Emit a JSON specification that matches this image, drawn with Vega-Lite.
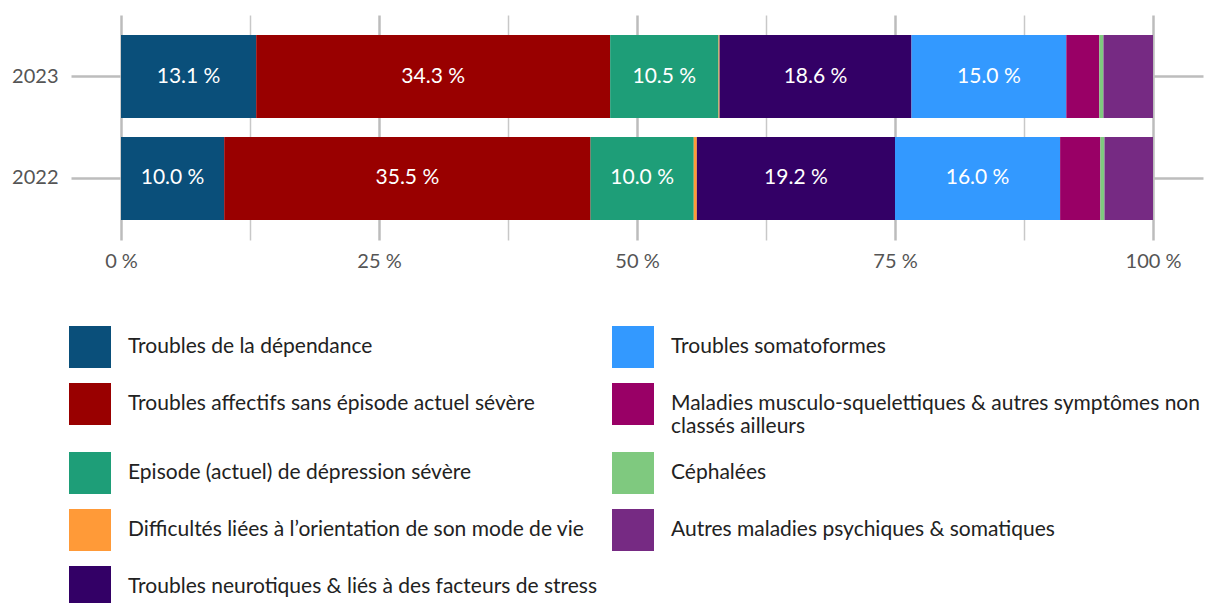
{
  "$schema": "https://vega.github.io/schema/vega-lite/v6.json",
  "width": 1032,
  "height": 225,
  "autosize": {"type": "none"},
  "padding": {"left": 121, "top": 15, "right": 57, "bottom": 363},
  "background": "white",
  "config": {
    "font": "Lato",
    "view": {"stroke": null}
  },
  "data": {
    "values": [
      {"year": "2023", "k": 1, "cat": "Troubles de la dépendance", "value": 13.1},
      {"year": "2023", "k": 2, "cat": "Troubles affectifs sans épisode actuel sévère", "value": 34.3},
      {"year": "2023", "k": 3, "cat": "Episode (actuel) de dépression sévère", "value": 10.5},
      {"year": "2023", "k": 4, "cat": "Difficultés liées à l’orientation de son mode de vie", "value": 0.1},
      {"year": "2023", "k": 5, "cat": "Troubles neurotiques & liés à des facteurs de stress", "value": 18.6},
      {"year": "2023", "k": 6, "cat": "Troubles somatoformes", "value": 15.0},
      {"year": "2023", "k": 7, "cat": "Maladies musculo-squelettiques & autres symptômes non classés ailleurs", "value": 3.2},
      {"year": "2023", "k": 8, "cat": "Céphalées", "value": 0.4},
      {"year": "2023", "k": 9, "cat": "Autres maladies psychiques & somatiques", "value": 4.8},
      {"year": "2022", "k": 1, "cat": "Troubles de la dépendance", "value": 10.0},
      {"year": "2022", "k": 2, "cat": "Troubles affectifs sans épisode actuel sévère", "value": 35.5},
      {"year": "2022", "k": 3, "cat": "Episode (actuel) de dépression sévère", "value": 10.0},
      {"year": "2022", "k": 4, "cat": "Difficultés liées à l’orientation de son mode de vie", "value": 0.3},
      {"year": "2022", "k": 5, "cat": "Troubles neurotiques & liés à des facteurs de stress", "value": 19.2},
      {"year": "2022", "k": 6, "cat": "Troubles somatoformes", "value": 16.0},
      {"year": "2022", "k": 7, "cat": "Maladies musculo-squelettiques & autres symptômes non classés ailleurs", "value": 3.9},
      {"year": "2022", "k": 8, "cat": "Céphalées", "value": 0.4},
      {"year": "2022", "k": 9, "cat": "Autres maladies psychiques & somatiques", "value": 4.7}
    ]
  },
  "transform": [
    {"stack": "value", "groupby": ["year"], "sort": [{"field": "k", "order": "ascending"}], "as": ["v0", "v1"]},
    {"calculate": "(datum.v0 + datum.v1) / 2", "as": "mid"},
    {"calculate": "format(datum.value, '.1f') + ' %'", "as": "lbl"}
  ],
  "layer": [
    {
      "mark": {"type": "bar", "cornerRadius": 0},
      "encoding": {
        "x": {
          "field": "v0", "type": "quantitative",
          "scale": {"domain": [0, 100], "nice": false, "zero": true},
          "axis": {
            "title": null,
            "values": [0, 12.5, 25, 37.5, 50, 62.5, 75, 87.5, 100],
            "labelExpr": "datum.value % 25 == 0 ? datum.value + ' %' : ''",
            "domain": false,
            "ticks": false,
            "grid": true,
            "gridColor": {"condition": {"test": "datum.value % 25 == 0", "value": "#bcbcbc"}, "value": "#c8c8c8"},
            "gridWidth": {"condition": {"test": "datum.value % 25 == 0", "value": 2.5}, "value": 1.5},
            "labelFontSize": 20,
            "labelColor": "#555555",
            "labelPadding": 11,
            "labelFlush": false
          }
        },
        "x2": {"field": "v1"},
        "y": {
          "field": "year", "type": "nominal", "sort": "descending",
          "scale": {"paddingInner": 0.186, "paddingOuter": 0.196},
          "axis": {
            "title": null,
            "orient": "left",
            "domain": false,
            "ticks": true,
            "tickSize": 50,
            "tickColor": "#bdbdbd",
            "tickWidth": 2.5,
            "labelPadding": 13,
            "labelFontSize": 20,
            "labelColor": "#555555"
          }
        },
        "color": {
          "field": "cat", "type": "nominal",
          "scale": {
            "domain": [
              "Troubles de la dépendance",
              "Troubles affectifs sans épisode actuel sévère",
              "Episode (actuel) de dépression sévère",
              "Difficultés liées à l’orientation de son mode de vie",
              "Troubles neurotiques & liés à des facteurs de stress",
              "Troubles somatoformes",
              "Maladies musculo-squelettiques & autres symptômes non classés ailleurs",
              "Céphalées",
              "Autres maladies psychiques & somatiques"
            ],
            "range": ["#0a4f7a", "#990000", "#1e9e78", "#ff9a38", "#330066", "#3399ff", "#990066", "#7fc97f", "#762a83"]
          },
          "legend": {
            "title": null,
            "orient": "none",
            "legendX": -52,
            "legendY": 311,
            "columns": 2,
            "direction": "vertical",
            "padding": 0,
            "symbolType": "square",
            "symbolSize": 1764,
            "symbolStrokeWidth": 0,
            "symbolOpacity": 1,
            "labelFontSize": 21,
            "labelColor": "#222222",
            "labelOffset": 17,
            "labelLimit": 700,
            "labelLineHeight": 23,
            "labelExpr": "datum.label == 'Maladies musculo-squelettiques & autres symptômes non classés ailleurs' ? ['Maladies musculo-squelettiques & autres symptômes non', 'classés ailleurs'] : datum.label",
            "rowPadding": 15,
            "columnPadding": 14
          }
        }
      }
    },
    {
      "transform": [{"filter": "datum.value >= 10"}],
      "mark": {"type": "text", "color": "white", "fontSize": 21, "baseline": "middle", "align": "center"},
      "encoding": {
        "x": {"field": "mid", "type": "quantitative"},
        "y": {
          "field": "year", "type": "nominal", "sort": "descending",
          "axis": {
            "title": null,
            "orient": "right",
            "domain": false,
            "labels": false,
            "ticks": true,
            "tickSize": 50,
            "tickColor": "#bdbdbd",
            "tickWidth": 2.5
          }
        },
        "text": {"field": "lbl"}
      }
    }
  ],
  "resolve": {"axis": {"y": "independent"}}
}
